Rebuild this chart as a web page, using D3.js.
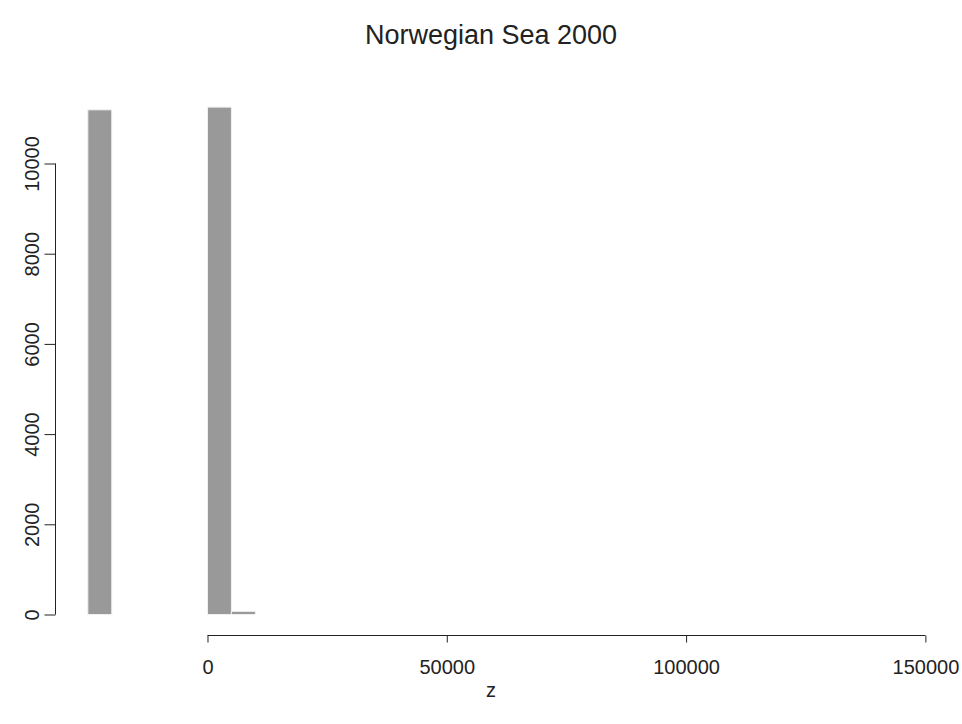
<!DOCTYPE html>
<html>
<head>
<meta charset="utf-8">
<script src="https://cdn.jsdelivr.net/npm/d3@7"></script>
<style>
  html, body { margin: 0; padding: 0; background: #fff; }
  svg { display: block; font-family: "Liberation Sans", Arial, Helvetica, sans-serif; }
</style>
</head>
<body>
<svg id="chart" width="962" height="724"></svg>
<script>
// Histogram of z, Norwegian Sea 2000 (bin width 5000)
const binStarts = [-25000, -20000, -15000, -10000, -5000, 0, 5000, 10000, 15000, 20000,
  25000, 30000, 35000, 40000, 45000, 50000, 55000, 60000, 65000, 70000,
  75000, 80000, 85000, 90000, 95000, 100000, 105000, 110000, 115000, 120000,
  125000, 130000, 135000, 140000];
const counts = [11190, 0, 0, 0, 0, 11250, 70, 0, 0, 0,
  0, 0, 0, 0, 0, 0, 0, 0, 0, 0,
  0, 0, 0, 0, 0, 0, 0, 0, 0, 0,
  0, 0, 0, 0];
const binWidth = 5000;
const xTicks = [0, 50000, 100000, 150000];
const yTicks = [0, 2000, 4000, 6000, 8000, 10000];
const title = "Norwegian Sea 2000";
const xLabel = "z";

const svg = d3.select("#chart");

// Plot region with 4% padding around the data range
const xMin = d3.min(binStarts), xMax = d3.max(binStarts) + binWidth;
const xPad = (xMax - xMin) * 0.04;
const x = d3.scaleLinear().domain([xMin - xPad, xMax + xPad]).range([55.3, 934]);
const y = d3.scaleLinear().domain([0, 10000]).range([614.5, 163.5]);

const bins = binStarts.map((s, i) => ({ x0: s, x1: s + binWidth, n: counts[i] }));

svg.append("g").selectAll("rect").data(bins).join("rect")
  .attr("x", d => x(d.x0))
  .attr("width", d => x(d.x1) - x(d.x0))
  .attr("y", d => y(d.n))
  .attr("height", d => y(0) - y(d.n))
  .attr("fill", "#999999")
  .attr("stroke", "#f0f0f0")
  .attr("stroke-width", 1);

// x axis
const xAxis = svg.append("g").attr("transform", "translate(0,635.5)")
  .call(d3.axisBottom(x).tickValues(xTicks).tickFormat(d3.format("d")).tickSize(7).tickSizeOuter(0));
xAxis.select(".domain").attr("d", `M${x(xTicks[0])},0H${x(xTicks[xTicks.length - 1])}`)
  .attr("stroke", "#222").attr("fill", "none");
xAxis.selectAll(".tick line").attr("stroke", "#222");
xAxis.selectAll(".tick text").attr("font-size", 20).attr("fill", "#222").attr("dy", null).attr("y", 38);

// y axis
const yAxis = svg.append("g").attr("transform", "translate(55.5,0)")
  .call(d3.axisLeft(y).tickValues(yTicks).tickFormat(d3.format("d")).tickSize(11).tickSizeOuter(0));
yAxis.select(".domain").attr("d", `M0,${y(0)}V${y(10000)}`).attr("stroke", "#222").attr("fill", "none");
yAxis.selectAll(".tick line").attr("stroke", "#222");
yAxis.selectAll(".tick text")
  .attr("font-size", 20).attr("fill", "#222")
  .attr("x", null).attr("dy", null)
  .attr("transform", "translate(-17,0) rotate(-90)")
  .attr("text-anchor", "middle");

// title and axis label
svg.append("text").attr("x", 491).attr("y", 44).attr("text-anchor", "middle")
  .attr("font-size", 27).attr("fill", "#222").text(title);
svg.append("text").attr("x", 491).attr("y", 697).attr("text-anchor", "middle")
  .attr("font-size", 20).attr("fill", "#222").text(xLabel);
</script>
</body>
</html>
